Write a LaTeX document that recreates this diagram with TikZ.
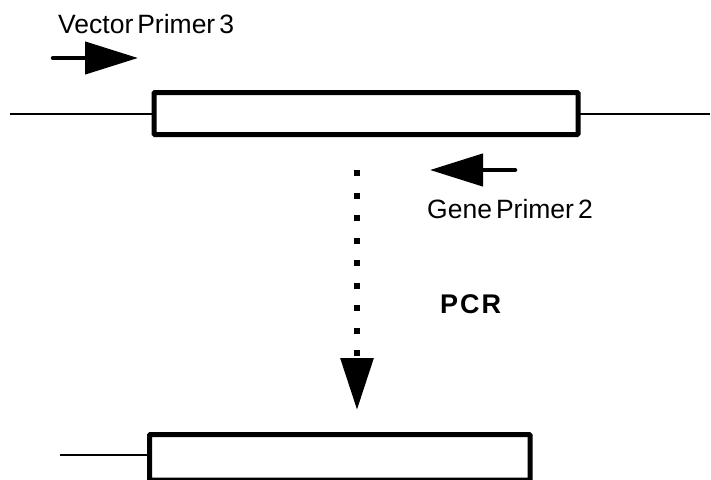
\documentclass[tikz,border=0pt]{standalone}
\usepackage{fontspec}
\setmainfont{Liberation Sans}
\usetikzlibrary{arrows.meta}
\newcommand{\labelfont}{\fontsize{26.5}{30}\selectfont\spaceskip=4pt plus 1pt\relax}

\begin{document}
\begin{tikzpicture}[x=1pt,y=-1pt,
       insert/.style={draw, line width=5pt, rounded corners=1pt, inner sep=0pt, outer sep=0pt},
       vector/.style={line width=2pt},
       primer/.style={line width=4.5pt, line cap=round, -{Triangle[length=53pt,width=32pt]}},
       pcrarrow/.style={line width=6pt, dash pattern=on 6pt off 16.5pt, -{Triangle[length=52pt,width=32pt]}},
       lbl/.style={font=\labelfont, inner sep=0pt, anchor=base west}]
       \clip (0,0) rectangle (711,479);
       \useasboundingbox (0,0) rectangle (711,479);

       \node[insert, minimum width=424pt, minimum height=42pt] (topins) at (366,113.5) {};
       \node[insert, minimum width=380.5pt, minimum height=45.5pt] (botins) at (339.75,457.25) {};

       \coordinate (tl) at (10,114);
       \coordinate (tr) at (710,114);
       \coordinate (bl) at (60,455);
       \draw[vector] (tl) -- (tl -| topins.west);
       \draw[vector] (tr -| topins.east) -- (tr);
       \draw[vector] (bl) -- (bl -| botins.west);

       \coordinate (vp1) at (53,58);
       \coordinate (vp2) at (138,58);
       \coordinate (gp1) at (515,170);
       \coordinate (gp2) at (430,170);
       \draw[primer] (vp1) -- (vp2);
       \draw[primer] (gp1) -- (gp2);
       \node[lbl] (vplabel) at (58,33) {Vector Primer 3};
       \node[lbl] (gplabel) at (427,218) {Gene Primer 2};

       \coordinate (pcr1) at (357,170);
       \coordinate (pcr2) at (357,410);
       \draw[pcrarrow] (pcr1) -- (pcr2);
       \node[lbl, font=\fontsize{27}{30}\selectfont\bfseries] (pcrlabel) at (440,313) {P\kern2pt C\kern2pt R};
\end{tikzpicture}
\end{document}
